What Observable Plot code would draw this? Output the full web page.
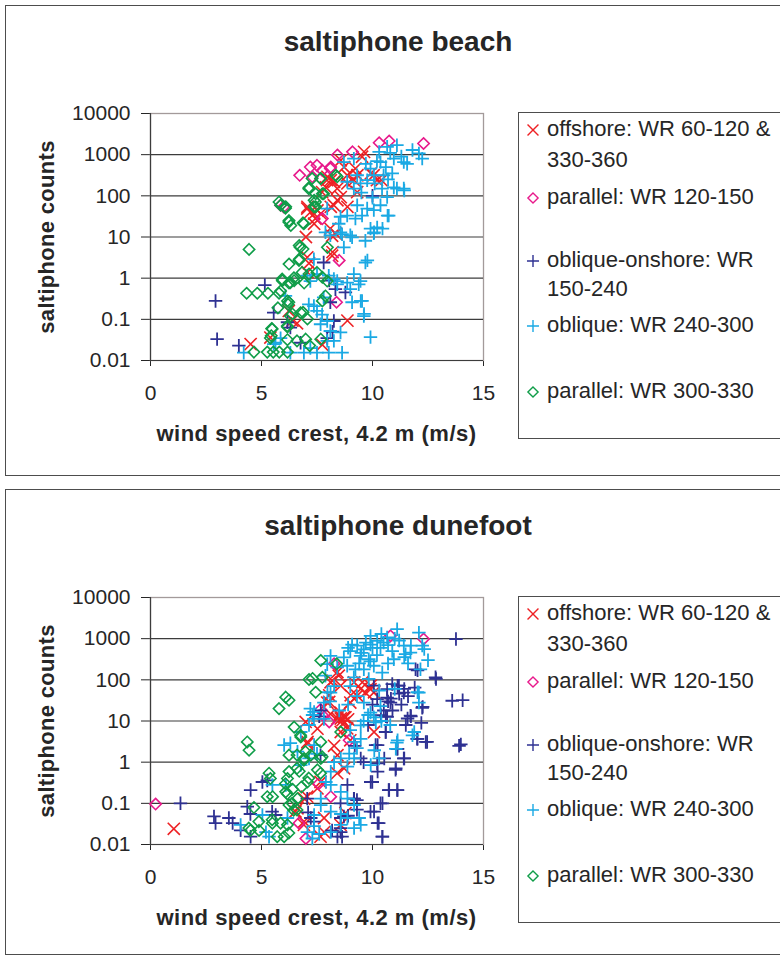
<!DOCTYPE html>
<html><head><meta charset="utf-8">
<script src="https://cdn.jsdelivr.net/npm/d3@7"></script>
<script src="https://cdn.jsdelivr.net/npm/@observablehq/plot@0.6"></script>
<style>
html,body{margin:0;padding:0;background:#fff;overflow:hidden;width:780px;height:958px;}
body{position:relative;font-family:"Liberation Sans",Arial,sans-serif;color:#262626;}
.panel{position:absolute;left:0;width:780px;height:480px;}
.box{position:absolute;left:5px;top:5px;width:900px;border:1.5px solid #4d4d4d;box-sizing:border-box;}
.title{position:absolute;left:398px;transform:translateX(-50%);font-weight:bold;font-size:28px;line-height:28px;white-space:nowrap;}
.ylab{position:absolute;font-weight:bold;font-size:22px;line-height:22px;letter-spacing:0.3px;white-space:nowrap;transform:translate(-50%,-50%) rotate(-90deg);}
.xlab{position:absolute;left:316.5px;transform:translateX(-50%);font-weight:bold;font-size:22px;line-height:22px;letter-spacing:0.5px;white-space:nowrap;}
.plot{position:absolute;left:0;top:0;}
.legend{position:absolute;left:518px;top:112px;width:400px;height:327px;border:1.5px solid #4d4d4d;box-sizing:border-box;background:#fff;}
.lrow{position:absolute;left:547px;font-size:22px;line-height:22px;white-space:nowrap;}
.lmark{position:absolute;}
</style></head><body>
<div id="chart"></div>
<script>
// ---- text ----
const titles = ["saltiphone beach", "saltiphone dunefoot"];
const xLabel = "wind speed crest, 4.2 m (m/s)";
const yLabel = "saltiphone counts";
const xTicks = [0, 5, 10, 15];
const yTicks = [0.01, 0.1, 1, 10, 100, 1000, 10000];
const seriesNames = [
  ["offshore: WR 60-120 &", "330-360"],
  ["parallel: WR 120-150"],
  ["oblique-onshore: WR", "150-240"],
  ["oblique: WR 240-300"],
  ["parallel: WR 300-330"]
];
const seriesSymbols = ["times", "diamond2", "plus", "plus", "diamond2"];
const seriesColors = ["#ee2124", "#e8198b", "#2e3192", "#1aa9e4", "#0f9d48"];

// ---- beach data [wind speed, counts] ----
const beachOffshore = [[9.62,1170],[8.57,730],[7.97,290],[8.27,220],[8.87,200],[9.17,240],[8.57,93],[8.42,78],[7.07,54],[7.37,37],[7.67,37],[7.37,21],[8.35,12],[7.0,10],[8.2,4.3],[7.14,2.3],[7.07,1.4],[8.87,0.093],[6.39,0.093],[4.51,0.025],[7.74,0.024],[10.4,240],[9.92,350],[9.32,316],[8.72,500],[8.12,240],[7.9,160],[8.12,54],[8.87,54],[7.52,44],[7.43,28],[8.1,16],[9.23,460],[9.53,890],[7.95,240],[8.41,150],[8.86,316],[7.73,123],[8.26,59],[7.06,49],[7.2,40],[9.31,123],[10.05,316],[10.2,240],[8.18,10.7],[8.18,3.5],[7.06,3.2],[6.23,0.16],[6.6,0.08],[5.4,0.036]];
const beachParallelA = [[6.72,315],[7.2,500],[7.5,550],[7.29,290],[7.74,415],[8.1,460],[8.12,500],[8.42,980],[9.1,1170],[10.3,1950],[10.75,2150],[12.3,1870],[5.86,59],[6.0,54],[7.74,28],[8.5,2.7],[8.38,0.26]];
const beachObliqueOnshore = [[2.93,0.28],[3.0,0.033],[3.98,0.023],[5.15,0.68],[5.55,0.145],[7.8,2.4],[8.33,0.54],[8.1,0.26],[8.26,0.091],[8.78,0.45],[7.96,0.035],[6.76,0.027],[6.3,0.063],[6.17,0.085],[10.0,100],[8.05,0.87],[8.2,0.05]];
const beachOblique = [[11.1,1700],[10.66,1550],[10.3,1170],[12.09,1070],[12.24,800],[11.41,660],[11.56,600],[10.96,800],[10.36,660],[9.91,460],[10.06,316],[9.76,240],[9.46,200],[10.5,316],[10.89,350],[10.96,160],[11.41,150],[11.1,150],[10.43,150],[10.66,93],[10.36,59],[10.73,33],[10.06,45],[10.21,17],[9.91,16],[9.76,49],[9.31,59],[9.53,33],[9.23,28],[8.86,33],[8.56,31],[8.48,21],[9.0,11],[8.56,13],[8.1,11],[7.96,49],[7.88,13],[8.71,660],[9.16,800],[9.31,316],[8.86,220],[9.16,150],[8.71,5.6],[8.63,11.7],[9.08,9.8],[9.68,8.1],[10.06,12.3],[9.68,2.4],[9.16,1.26],[8.86,0.78],[9.46,0.85],[9.0,0.54],[8.41,0.71],[9.53,0.28],[9.61,0.12],[9.91,0.037],[9.08,0.26],[8.56,0.048],[8.63,0.0155],[8.03,0.0155],[7.5,0.0155],[6.91,0.0155],[6.3,0.0155],[4.2,0.0155],[7.2,0.02],[7.36,0.21],[7.13,0.23],[7.5,0.16],[7.73,0.13],[7.66,0.076],[7.96,0.091],[5.86,0.035],[5.63,0.027],[6.08,0.37],[5.55,0.025],[7.8,0.34],[8.1,0.052],[7.96,0.03],[8.26,0.03],[8.41,0.85],[9.38,0.71],[7.36,2.9],[7.5,1.26],[7.2,0.85],[7.06,1.15],[8.03,1.15],[8.26,0.95],[9.62,0.135],[9.47,0.28],[11.43,135],[10.68,33],[10.07,13],[9.77,2.7],[10.45,16],[10.2,700],[10.6,500],[10.8,1100],[11.3,900],[9.7,600],[10.1,200],[10.7,250],[11.8,1300],[9.5,120],[10.0,90]];
const beachParallelB = [[8.35,316],[7.67,263],[7.14,160],[7.44,112],[7.37,78],[7.74,112],[7.44,54],[5.79,71],[6.09,54],[6.24,25],[6.32,19],[6.87,22],[6.74,5.6],[6.87,5.1],[7.97,5.6],[4.44,5.0],[6.24,2.2],[6.69,2.7],[5.94,0.87],[6.47,0.87],[6.24,0.76],[6.92,0.76],[7.14,1.26],[7.74,1.05],[4.33,0.43],[4.81,0.43],[5.29,0.43],[5.79,0.43],[6.17,0.28],[7.74,0.28],[5.74,0.19],[6.2,0.23],[6.39,0.135],[6.87,0.148],[7.07,0.102],[6.17,0.065],[5.46,0.06],[5.44,0.04],[6.17,0.032],[6.99,0.033],[7.67,0.033],[7.17,0.023],[4.66,0.016],[5.26,0.016],[5.53,0.016],[5.8,0.016],[6.17,0.016],[5.86,0.49],[6.7,2.9],[6.7,6.2],[6.83,1.38],[6.46,1.02],[5.93,0.95],[6.3,0.78],[7.5,1.38],[7.96,0.85],[7.88,0.37],[6.23,0.26],[6.76,0.145],[5.48,0.058],[6.16,0.069],[6.6,0.03],[5.4,0.035],[6.3,0.12],[5.86,59],[6.08,50],[6.23,23],[6.91,21],[7.13,148],[7.28,263],[7.66,263],[7.43,71],[7.36,54],[7.8,112],[8.41,290]];

// ---- dunefoot data [wind speed, counts] ----
const duneOffshore = [[8.42,155],[8.2,95],[8.57,72],[8.05,29],[8.42,11.5],[8.57,11.5],[8.72,12.4],[8.65,10.5],[9.02,42],[9.47,60],[9.92,72],[10.07,50],[10.07,5.4],[6.99,9.5],[7.07,3.1],[7.52,6.5],[8.42,1.48],[8.72,0.71],[8.57,5.4],[8.27,2.5],[7.52,0.23],[6.92,0.13],[6.62,0.076],[6.92,0.036],[7.82,0.044],[7.82,0.02],[8.05,42],[9.17,87],[8.48,126],[8.11,87],[7.96,28],[9.54,87],[9.68,49],[9.31,41],[9.0,28],[8.56,16],[8.78,12.3],[8.11,14.8],[9.91,59],[8.86,6.6],[7.06,2.8],[9.0,3.4],[7.06,0.145],[6.53,0.063],[8.41,0.54],[7.66,0.33],[6.91,0.03],[7.66,0.0155],[8.56,0.03],[1.05,0.024],[8.78,0.058],[8.7,9],[8.9,11],[8.5,14]];
const duneParallelA = [[0.23,0.096],[12.3,980],[8.27,245],[10.81,1170],[7.74,14],[8.95,3.4],[8.05,9.5],[8.12,0.145],[6.69,0.033],[7.0,0.014],[7.58,0.3],[7.66,19]];
const duneObliqueOnshore = [[13.76,980],[12.86,105],[14.06,32],[13.98,2.7],[13.9,2.5],[12.4,3.1],[12.03,3.7],[12.26,22],[12.03,170],[11.43,60],[11.13,72],[11.2,46],[10.83,35],[10.7,30],[10.38,13.8],[10.6,13],[11.58,11.5],[11.73,13],[10.6,5.4],[10.23,2.6],[11.13,2.1],[11.43,1.23],[11.05,0.71],[10.53,1.23],[10.23,0.59],[9.92,0.33],[11.13,0.21],[10.75,0.21],[10.45,0.1],[10.07,0.063],[10.23,0.033],[10.45,0.0155],[9.17,0.13],[9.3,0.12],[8.87,0.28],[8.57,0.044],[8.57,0.02],[8.42,0.0155],[8.9,0.05],[9.3,0.07],[1.35,0.1],[2.86,0.048],[2.93,0.033],[3.53,0.044],[3.7,0.033],[4.06,0.022],[4.51,0.0155],[4.51,0.21],[4.36,0.083],[4.5,0.055],[5.04,0.33],[5.64,0.052],[7.67,18],[7.6,13],[7.22,0.044],[7.36,0.036],[7.1,0.06],[9.47,1.23],[9.2,2.5],[9.6,1.0],[12.84,115],[11.94,180],[13.59,31],[11.19,72],[11.41,49],[10.89,79],[10.66,37],[10.81,28],[12.24,21],[11.71,13.5],[10.21,34],[10.51,18],[10.66,59],[10.06,72],[5.26,0.36],[5.48,0.063],[7.06,0.13],[8.18,0.022],[8.56,0.025],[8.63,0.0155],[8.71,0.048],[9.16,0.13],[8.56,0.1],[9.91,0.063],[10.28,0.033],[10.44,0.0155],[10.36,0.1],[11.11,0.21],[10.73,0.21],[9.99,0.33],[11.04,0.65],[11.41,1.23],[11.11,2.1],[10.21,0.93],[12.46,3.1],[12.01,3.7],[10.14,2.6],[10.59,5.4],[10.66,12.6],[7.66,1.48],[11.6,40],[11.9,65],[11.3,25],[10.9,18],[11.5,8],[12.2,9],[10.0,25],[9.8,8]];
const duneOblique = [[11.11,1700],[12.09,1400],[12.24,680],[10.66,1070],[10.21,890],[10.36,600],[9.91,720],[9.61,550],[9.46,380],[9.83,316],[9.31,680],[9.0,500],[8.71,350],[8.86,220],[8.41,200],[9.23,180],[9.61,180],[10.06,220],[10.44,150],[11.41,680],[11.49,420],[11.71,460],[10.96,316],[10.89,500],[12.16,180],[12.09,49],[12.09,28],[7.88,126],[8.11,49],[8.1,30],[7.81,28],[7.36,11.2],[7.3,14],[7.81,11.2],[9.16,115],[9.83,105],[9.61,28],[9.91,16],[10.36,23],[10.06,12.3],[8.11,380],[7.96,240],[9.08,720],[9.91,1170],[8.5,18],[8.9,25],[12.33,560],[11.73,680],[11.43,355],[12.03,50],[11.88,5.4],[11.8,4.5],[11.13,3.4],[11.05,2.1],[10.08,1.95],[9.92,0.85],[10.3,1.23],[9.47,3.7],[9.17,3.1],[8.95,1.62],[9.17,1.23],[8.87,0.78],[8.57,1.23],[8.27,1.0],[8.12,0.59],[7.9,0.33],[8.12,0.28],[8.57,0.19],[8.87,0.13],[9.17,0.091],[9.4,0.044],[9.47,0.03],[8.87,0.044],[8.57,0.055],[8.12,0.063],[7.67,0.13],[7.67,0.09],[7.37,0.052],[7.37,0.028],[7.07,0.02],[7.29,0.014],[7.6,0.018],[8.12,0.02],[8.57,0.03],[9.17,0.025],[5.34,0.0155],[5.2,0.02],[6.17,0.044],[4.06,0.03],[5.04,0.052],[5.49,0.28],[6.1,0.28],[6.02,2.6],[6.3,2.9],[6.62,1.8],[6.77,0.85],[7.14,1.23],[7.37,2.6],[7.5,1.6],[7.14,8.0],[6.77,5.4],[7.37,16.6],[7.2,20],[7.97,50],[8.27,70],[11.1,3.0],[9.3,2.2],[10.15,9.3],[10.4,10],[9.8,14],[9.47,7.8],[9.5,450],[9.7,800],[10.0,600],[10.2,400],[10.5,800],[10.7,700],[11.0,1000],[11.2,900],[10.4,1300],[9.4,250],[9.9,280],[10.7,250],[8.9,600],[11.6,250],[12.5,300],[11.0,60],[10.3,55],[9.3,40],[9.0,70],[9.6,10],[10.8,8],[9.0,6]];
const duneParallelB = [[7.67,295],[7.14,102],[7.3,108],[7.74,115],[7.44,50],[6.09,38],[6.24,32],[5.79,20],[8.39,245],[6.47,7.1],[6.77,4.1],[4.36,3.1],[4.44,1.95],[8.57,5.4],[7.67,3.1],[6.24,1.48],[6.6,1.5],[6.92,1.23],[7.22,1.48],[7.67,1.23],[6.24,0.59],[6.7,0.6],[7.07,0.33],[7.52,0.65],[5.34,0.54],[5.4,0.4],[5.26,0.145],[5.5,0.145],[6.17,0.4],[6.09,0.19],[6.4,0.22],[6.24,0.091],[6.45,0.068],[4.66,0.079],[4.89,0.022],[4.5,0.022],[5.49,0.033],[5.86,0.033],[6.17,0.03],[5.71,0.0155],[6.02,0.0155],[6.23,0.019],[6.62,0.13],[6.8,0.25],[6.76,4.5],[7.73,1.35],[6.98,1.8],[6.91,1.12],[6.6,0.71],[7.13,0.41],[7.66,0.54],[6.08,0.3],[6.16,0.17],[6.38,0.1],[6.6,0.069],[4.88,0.036],[4.43,0.025],[5.48,0.04]];

const panels = [
  {title: titles[0], top: 0, boxH: 471, series: [beachOffshore, beachParallelA, beachObliqueOnshore, beachOblique, beachParallelB]},
  {title: titles[1], top: 484, boxH: 466, series: [duneOffshore, duneParallelA, duneObliqueOnshore, duneOblique, duneParallelB]}
];

// layout (not data)
const markerR = {times: 5.6, diamond2: 5.1, plus: 4.4};
const markerSW = {times: 1.6, diamond2: 1.6, plus: 1.8};
const legendRows = [[129, 160], [197], [260, 289], [325], [391]];
const FONT = '"Liberation Sans", Arial, sans-serif';
const symMap = {times: d3.symbolTimes || d3.symbolX, diamond2: d3.symbolDiamond2, plus: d3.symbolPlus};

const root = document.getElementById("chart");
panels.forEach(p => {
  const el = document.createElement("div");
  el.className = "panel";
  el.style.top = p.top + "px";
  root.appendChild(el);

  const box = document.createElement("div");
  box.className = "box";
  box.style.height = p.boxH + "px";
  el.appendChild(box);

  const t = document.createElement("div");
  t.className = "title";
  t.style.top = (52 - 0.846 * 28) + "px";
  t.textContent = p.title;
  el.appendChild(t);

  const yl = document.createElement("div");
  yl.className = "ylab";
  yl.style.left = "47px";
  yl.style.top = "236.5px";
  yl.textContent = yLabel;
  el.appendChild(yl);

  const xl = document.createElement("div");
  xl.className = "xlab";
  xl.style.top = (441.5 - 0.846 * 22) + "px";
  xl.textContent = xLabel;
  el.appendChild(xl);

  const marks = [
    Plot.frame({stroke: "#a39a9a", strokeWidth: 1.3}),
    Plot.ruleY(yTicks.slice(1, -1), {stroke: "#3c3c3c", strokeWidth: 1.1}),
    Plot.ruleX([0], {stroke: "#3c3c3c", strokeWidth: 1.2}),
    Plot.ruleY([0.01], {stroke: "#3c3c3c", strokeWidth: 1.2})
  ];
  p.series.forEach((data, i) => {
    const sym = seriesSymbols[i];
    marks.push(Plot.dot(data, {
      x: d => d[0], y: d => d[1],
      symbol: sym, r: markerR[sym],
      stroke: seriesColors[i], fill: "none", strokeWidth: markerSW[sym]
    }));
  });

  const svg = Plot.plot({
    width: 520, height: 480,
    marginLeft: 150, marginRight: 37, marginTop: 113, marginBottom: 120,
    style: {background: "transparent", overflow: "visible", fontFamily: FONT, fontSize: "21px", color: "#262626"},
    x: {domain: [0, 15], ticks: xTicks, tickSize: 6, tickPadding: 19, label: null, tickFormat: d => String(d)},
    y: {type: "log", domain: [0.01, 10000], ticks: yTicks, tickSize: 9, tickPadding: 11, label: null, tickFormat: d => String(d)},
    marks
  });
  svg.classList.add("plot");
  svg.style.position = "absolute";
  svg.style.left = "0px";
  svg.style.top = "0px";
  el.appendChild(svg);

  const lg = document.createElement("div");
  lg.className = "legend";
  el.appendChild(lg);

  seriesNames.forEach((lines, i) => {
    lines.forEach((txt, j) => {
      const r = document.createElement("div");
      r.className = "lrow";
      r.style.top = (legendRows[i][j] - 11) + "px";
      r.textContent = txt;
      el.appendChild(r);
    });
    const sym = seriesSymbols[i];
    const rr = markerR[sym] * 0.9;
    const ns = "http://www.w3.org/2000/svg";
    const s = document.createElementNS(ns, "svg");
    s.setAttribute("width", 20); s.setAttribute("height", 20);
    s.setAttribute("class", "lmark");
    s.style.left = (532.5 - 10) + "px";
    s.style.top = (legendRows[i][0] + 1 - 10) + "px";
    const path = document.createElementNS(ns, "path");
    path.setAttribute("d", d3.symbol(symMap[sym], Math.PI * rr * rr)());
    path.setAttribute("transform", "translate(10,10)");
    path.setAttribute("fill", "none");
    path.setAttribute("stroke", seriesColors[i]);
    path.setAttribute("stroke-width", 1.4);
    s.appendChild(path);
    el.appendChild(s);
  });
});
</script>
</body></html>
